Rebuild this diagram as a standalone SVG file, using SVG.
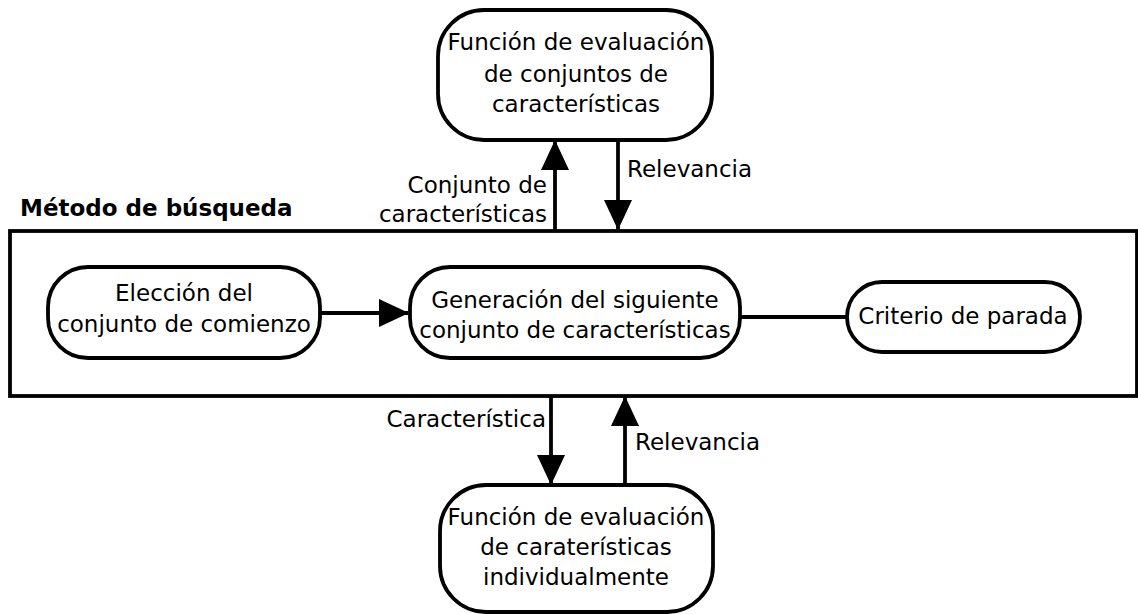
<svg xmlns="http://www.w3.org/2000/svg" width="1138" height="614" viewBox="0 0 1138 614">
<defs>
<marker id="ah" markerUnits="userSpaceOnUse" markerWidth="30" markerHeight="28" viewBox="0 0 30 28" refX="29" refY="14" orient="auto">
<path d="M0,0 L30,14 L0,28 Z" fill="#000"/>
</marker>
<style>
.n{fill:#fff;stroke:#000;stroke-width:3.8}
.t{font-family:"DejaVu Sans",sans-serif;font-size:23px;fill:#000}
.m{text-anchor:middle}
.e{text-anchor:end}
.b{font-weight:bold}
.c{stroke:#000;stroke-width:3.8;fill:none}
</style>
</defs>
<rect width="1138" height="614" fill="#fff"/>
<g id="metodo">
<text class="t b" x="20" y="216">Método de búsqueda</text>
<rect class="n" x="10" y="231" width="1127" height="165"/>
</g>
<g id="eval-conjuntos">
<rect class="n" x="438" y="10" width="274" height="130" rx="46" ry="46"/>
<text class="t m" x="576" y="50">Función de evaluación</text>
<text class="t m" x="576" y="82">de conjuntos de</text>
<text class="t m" x="576" y="112">características</text>
</g>
<g id="eleccion">
<rect class="n" x="48" y="267" width="272" height="91" rx="40" ry="40"/>
<text class="t m" x="184" y="301">Elección del</text>
<text class="t m" x="184" y="332">conjunto de comienzo</text>
</g>
<g id="generacion">
<rect class="n" x="410" y="267" width="330" height="91" rx="40" ry="40"/>
<text class="t m" x="575" y="308">Generación del siguiente</text>
<text class="t m" x="575" y="338">conjunto de características</text>
</g>
<g id="criterio">
<rect class="n" x="847" y="282" width="233" height="70" rx="35" ry="35"/>
<text class="t m" x="963" y="324">Criterio de parada</text>
</g>
<g id="eval-individual">
<rect class="n" x="440" y="485" width="273" height="127" rx="46" ry="46"/>
<text class="t m" x="576" y="525">Función de evaluación</text>
<text class="t m" x="576" y="555">de caraterísticas</text>
<text class="t m" x="576" y="585">individualmente</text>
</g>
<g id="connectors">
<line class="c" x1="320" y1="313" x2="408" y2="313" marker-end="url(#ah)"/>
<line class="c" x1="740" y1="317" x2="847" y2="317"/>
<line class="c" x1="555" y1="231" x2="555" y2="141" marker-end="url(#ah)"/>
<line class="c" x1="618" y1="140" x2="618" y2="229" marker-end="url(#ah)"/>
<line class="c" x1="551" y1="396" x2="551" y2="484" marker-end="url(#ah)"/>
<line class="c" x1="625" y1="485" x2="625" y2="397" marker-end="url(#ah)"/>
<text class="t e" x="547" y="193">Conjunto de</text>
<text class="t e" x="547" y="222">características</text>
<text class="t" x="627" y="177">Relevancia</text>
<text class="t e" x="546" y="427">Característica</text>
<text class="t" x="635" y="450">Relevancia</text>
</g>
</svg>
